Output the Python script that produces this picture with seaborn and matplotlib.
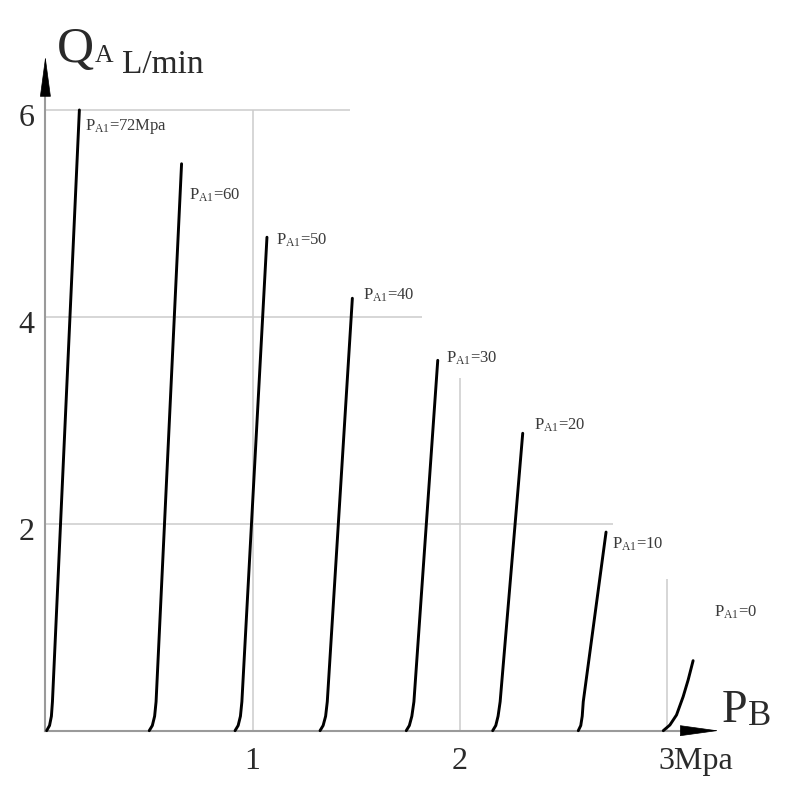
import numpy as np
import pandas as pd
import matplotlib.pyplot as plt
import matplotlib.transforms as mtransforms
import seaborn as sns

# curve labels (P_A1 values) and points
curve_names = ["72Mpa", "60", "50", "40", "30", "20", "10", "0"]
curve_p = [
    [0.006, 0.020, 0.029, 0.034, 0.164],
    [0.501, 0.516, 0.527, 0.534, 0.657],
    [0.915, 0.930, 0.941, 0.948, 1.069],
    [1.325, 1.340, 1.352, 1.360, 1.481],
    [1.741, 1.756, 1.768, 1.778, 1.893],
    [2.158, 2.173, 2.184, 2.194, 2.303],
    [2.571, 2.583, 2.590, 2.595, 2.705],
    [2.981, 3.013, 3.045, 3.077, 3.101, 3.125],
]
curve_q = [
    [0, 0.05, 0.14, 0.28, 6.00],
    [0, 0.05, 0.14, 0.28, 5.48],
    [0, 0.05, 0.14, 0.28, 4.77],
    [0, 0.05, 0.14, 0.28, 4.18],
    [0, 0.05, 0.14, 0.28, 3.58],
    [0, 0.05, 0.14, 0.28, 2.875],
    [0, 0.05, 0.14, 0.28, 1.92],
    [0, 0.055, 0.152, 0.329, 0.490, 0.677],
]
label_p = [0.191, 0.694, 1.112, 1.534, 1.931, 2.357, 2.732, 3.225]
label_q = [5.84, 5.18, 4.74, 4.21, 3.60, 2.955, 1.805, 1.14]

# partial grid lines
hgrid_q = [2, 4, 6]
hgrid_end = [2.74, 1.815, 1.47]
vgrid_p = [1, 2, 3]
vgrid_end = [6.0, 3.41, 1.47]

xtick_vals = [1, 2, 3]
xtick_labels = ["1", "2", "3Mpa"]
ytick_vals = [2, 4, 6]
ytick_labels = ["2", "4", "6"]

rows = []
for name, ps, qs in zip(curve_names, curve_p, curve_q):
    for p, q in zip(ps, qs):
        rows.append({"curve": name, "P": p, "Q": q})
df = pd.DataFrame(rows)

sns.set_style("white")
plt.rcParams['font.family'] = ['Liberation Serif', 'DejaVu Serif']
plt.rcParams['mathtext.fontset'] = 'custom'
plt.rcParams['mathtext.rm'] = 'Liberation Serif'

fig = plt.figure(figsize=(7.87, 8.06), dpi=100)
ax = fig.add_axes([0, 0, 1, 1])
ax.set_xlim(-0.219, 3.578)
ax.set_ylim(-0.728, 7.063)

grid_col = "#cccccc"
axis_col = "#9a9a9a"
for q, e in zip(hgrid_q, hgrid_end):
    ax.hlines(q, 0, e, color=grid_col, lw=1.1, zorder=1)
for p, e in zip(vgrid_p, vgrid_end):
    ax.vlines(p, 0, e, color=grid_col, lw=1.1, zorder=1)

sns.lineplot(data=df, x="P", y="Q", units="curve", estimator=None, sort=False,
             color="black", lw=2.1, ax=ax, zorder=3)

for name, lp, lq in zip(curve_names, label_p, label_q):
    ax.text(lp, lq, r"P$\mathregular{_{A1}}$=" + name, fontsize=12, color="#3a3a3a",
            ha="left", va="center")

# axes lines
for s in ["top", "right"]:
    ax.spines[s].set_visible(False)
ax.spines["left"].set_position(("data", 0))
ax.spines["bottom"].set_position(("data", 0))
ax.spines["left"].set_bounds(0, 6.15)
ax.spines["bottom"].set_bounds(0, 3.08)
for s in ["left", "bottom"]:
    ax.spines[s].set_color(axis_col)
    ax.spines[s].set_linewidth(1.5)

ax.set_xticks(xtick_vals)
ax.set_xticklabels(xtick_labels)
ax.set_xticks(np.arange(0.1, 3.0, 0.1), minor=True)
ax.set_yticks(ytick_vals)
ax.set_yticklabels(ytick_labels)
ax.set_yticks(np.arange(0.2, 6.0, 0.2), minor=True)
ax.tick_params(which="major", length=0, labelsize=23, labelcolor="#2a2a2a")
ax.tick_params(axis="x", which="major", pad=12)
ax.tick_params(axis="y", which="major", pad=8)
ax.tick_params(which="minor", direction="in", length=3.5, width=1, color=axis_col)
ax.set_xlabel("")
ax.set_ylabel("")

xl = ax.get_xticklabels()[2]
xl.set_transform(xl.get_transform() + mtransforms.ScaledTranslation(0.29, 0, fig.dpi_scale_trans))
for yl in ax.get_yticklabels():
    yl.set_transform(yl.get_transform() + mtransforms.ScaledTranslation(0, -0.05, fig.dpi_scale_trans))

# arrow heads
ax.annotate("", xy=(0.0, 6.52), xytext=(0.0, 6.14),
            arrowprops=dict(arrowstyle="-|>,head_length=1.35,head_width=0.18",
                            mutation_scale=20, color="black", lw=0.5, shrinkA=0, shrinkB=0))
ax.annotate("", xy=(3.25, 0.0), xytext=(3.07, 0.0),
            arrowprops=dict(arrowstyle="-|>,head_length=1.3,head_width=0.18",
                            mutation_scale=20, color="black", lw=0.5, shrinkA=0, shrinkB=0))

# axis titles
ax.text(0.055, 6.467, "Q", fontsize=37, color="#2a2a2a", ha="left", va="baseline")
ax.text(0.237, 6.467, "A", fontsize=18.5, color="#2a2a2a", ha="left", va="baseline")
ax.text(0.368, 6.355, "L/min", fontsize=24, color="#2a2a2a", ha="left", va="baseline")
ax.text(3.262, 0.087, "P", fontsize=33, color="#2a2a2a", ha="left", va="baseline")
ax.text(3.388, 0.055, "B", fontsize=25, color="#2a2a2a", ha="left", va="baseline")

fig.savefig("out.png", dpi=100)
